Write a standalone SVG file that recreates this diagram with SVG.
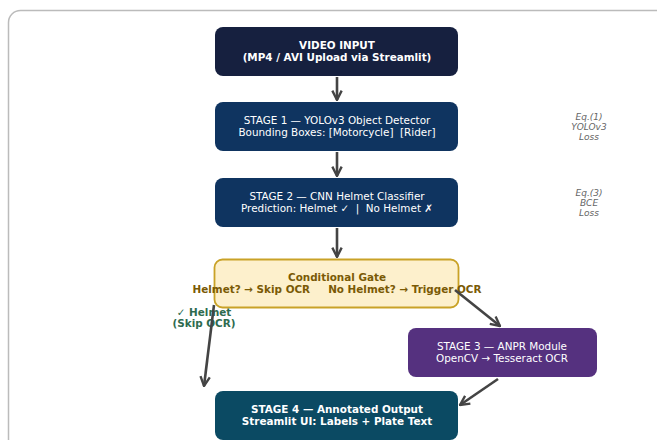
<svg xmlns="http://www.w3.org/2000/svg" width="657" height="440" viewBox="0 0 657 440">
<style>
text{font-family:"DejaVu Sans",sans-serif;text-anchor:middle;white-space:pre}
.w{fill:#ffffff;font-size:10.4px}
.b{font-weight:bold}
.note{fill:#666666;font-size:9px;font-style:italic}
.gate{fill:#7a5a05;font-size:10.4px;font-weight:bold}
.green{fill:#2e6b4f;font-size:10.4px;font-weight:bold}
.conn line{stroke:#444444;stroke-width:2.6;fill:none}
</style>
<defs>
<marker id="ah" viewBox="0 0 10 10" refX="9" refY="5" markerWidth="4.5" markerHeight="4.5" orient="auto" markerUnits="strokeWidth">
<path d="M1,1 L9,5 L1,9" fill="none" stroke="#444444" stroke-width="2"/>
</marker>
</defs>
<rect x="0" y="0" width="657" height="440" fill="#ffffff"/>
<rect x="8.5" y="10.5" width="680" height="460" rx="12" fill="#ffffff" stroke="#bbbbbb" stroke-width="1.5"/>
<g id="video-input">
<rect x="215" y="27" width="243" height="49" rx="8" fill="#16203f"/>
<text class="w b" x="337" y="49">VIDEO INPUT</text>
<text class="w b" x="337" y="61">(MP4 / AVI Upload via Streamlit)</text>
</g>
<g id="stage1">
<rect x="215" y="102" width="243" height="49" rx="8" fill="#0f3460"/>
<text class="w" x="337" y="124">STAGE 1 — YOLOv3 Object Detector</text>
<text class="w" x="337" y="136">Bounding Boxes: [Motorcycle]  [Rider]</text>
</g>
<g id="stage2">
<rect x="215" y="178" width="243" height="49" rx="8" fill="#0f3460"/>
<text class="w" x="337" y="200">STAGE 2 — CNN Helmet Classifier</text>
<text class="w" x="337" y="212">Prediction: Helmet ✓  |  No Helmet ✗</text>
</g>
<g id="gate">
<rect x="214.5" y="259.5" width="244" height="48" rx="8" fill="#fdf0cc" stroke="#c9a227" stroke-width="1.8"/>
<text class="gate" x="337" y="281">Conditional Gate</text>
<text class="gate" x="337" y="293">Helmet? → Skip OCR     No Helmet? → Trigger OCR</text>
</g>
<g id="stage3">
<rect x="408" y="328" width="189" height="49" rx="8" fill="#55317f"/>
<text class="w" x="502" y="350">STAGE 3 — ANPR Module</text>
<text class="w" x="502" y="362">OpenCV → Tesseract OCR</text>
</g>
<g id="stage4">
<rect x="215" y="391" width="243" height="49" rx="8" fill="#0b4a63"/>
<text class="w b" x="337" y="413">STAGE 4 — Annotated Output</text>
<text class="w b" x="337" y="425">Streamlit UI: Labels + Plate Text</text>
</g>
<g id="notes">
<text class="note" x="589" y="120">Eq.(1)</text>
<text class="note" x="589" y="130">YOLOv3</text>
<text class="note" x="589" y="140">Loss</text>
<text class="note" x="589" y="196">Eq.(3)</text>
<text class="note" x="589" y="206">BCE</text>
<text class="note" x="589" y="216">Loss</text>
<text class="green" x="204" y="316">✓ Helmet</text>
<text class="green" x="204" y="327">(Skip OCR)</text>
</g>
<g class="conn" id="connectors">
<line x1="337" y1="77" x2="337" y2="100" marker-end="url(#ah)"/>
<line x1="337" y1="152" x2="337" y2="176" marker-end="url(#ah)"/>
<line x1="337" y1="228" x2="337" y2="257" marker-end="url(#ah)"/>
<line x1="455" y1="290" x2="500" y2="326" marker-end="url(#ah)"/>
<line x1="214" y1="305" x2="204" y2="386" marker-end="url(#ah)"/>
<line x1="498" y1="379" x2="460" y2="405" marker-end="url(#ah)"/>
</g>
</svg>
